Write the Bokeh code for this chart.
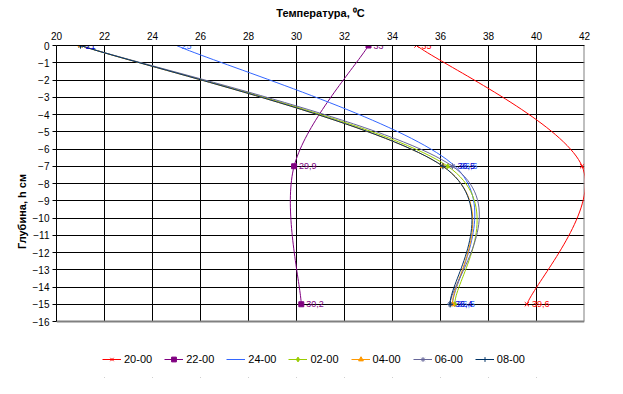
import numpy as np
from bokeh.plotting import figure
from bokeh.models import Range1d, FixedTicker, Legend, LegendItem, ColumnDataSource
from bokeh.embed import file_html
from bokeh.resources import INLINE
from bokeh.core.properties import value

# ---- data ----
depths = [0, -7, -15]
t_2000 = [35.0, 41.9, 39.6]
t_2200 = [33.0, 29.9, 30.2]
t_2400 = [25.0, 36.6, 36.5]
t_0200 = [21.0, 36.3, 36.6]
t_0400 = [21.0, 36.1, 36.5]
t_0600 = [21.0, 36.5, 36.4]
t_0800 = [21.0, 36.1, 36.4]

series_names = ["20-00", "22-00", "24-00", "02-00", "04-00", "06-00", "08-00"]
series_vals = [t_2000, t_2200, t_2400, t_0200, t_0400, t_0600, t_0800]
colors = ["#FF0000", "#800080", "#3366FF", "#99CC00", "#FF9900", "#666699", "#003366"]
markers = ["x", "square", None, "diamond", "triangle", "asterisk", "cross"]
labelled = {"20-00": "#FF0000", "22-00": "#800080", "24-00": "#3366FF", "06-00": "#0000CC"}

x_ticks = list(range(20, 43, 2))
y_ticks = list(range(-16, 1))

X0, X1 = 20, 42
Y0, Y1 = -16, 0
FONT = "Liberation Sans"

# layout (pixels)
W, H = 620, 391
BL, BR, BT, BB = 56, 36, 45, 14
FW = W - BL - BR                 # frame width
FH_PLOT = 276                    # height of the actual plot area (0 .. -16)
FH = H - BT - BB                 # frame height incl. room for the legend
Y_LOW = Y0 - (FH - FH_PLOT) * (Y1 - Y0) / FH_PLOT


def smooth(xs, ys, n=40):
    """Excel-style smoothed line (Bezier, tangents in screen space)."""
    sx = FW / (X1 - X0)
    sy = FH_PLOT / (Y1 - Y0)
    P = np.column_stack([np.asarray(xs, float) * sx, np.asarray(ys, float) * sy])
    m = len(P)
    out = [P[0]]
    t = np.linspace(0, 1, n)[1:, None]
    for i in range(m - 1):
        p0 = P[max(i - 1, 0)]
        p1 = P[i]
        p2 = P[i + 1]
        p3 = P[min(i + 2, m - 1)]
        c1 = p1 + (p2 - p0) / 6
        c2 = p2 - (p3 - p1) / 6
        seg = (1 - t) ** 3 * p1 + 3 * (1 - t) ** 2 * t * c1 + 3 * (1 - t) * t ** 2 * c2 + t ** 3 * p2
        out.extend(seg)
    out = np.array(out)
    return out[:, 0] / sx, out[:, 1] / sy


p = figure(width=W, height=H,
           x_range=Range1d(X0, X1), y_range=Range1d(Y_LOW, Y1),
           x_axis_location="above",
           output_backend="svg", toolbar_location=None,
           min_border_left=BL, min_border_right=BR,
           min_border_top=BT, min_border_bottom=BB)
p.background_fill_color = "white"
p.border_fill_color = "white"
p.outline_line_color = None

# axes
p.xaxis.ticker = FixedTicker(ticks=x_ticks)
p.yaxis.ticker = FixedTicker(ticks=y_ticks)
p.yaxis.bounds = (Y0, Y1)
p.xaxis.axis_label = "Температура, \u2070C"
p.yaxis.axis_label = "Глубина, h см"
for ax in (p.xaxis, p.yaxis):
    ax.axis_line_color = "black"
    ax.major_tick_line_color = "black"
    ax.minor_tick_line_color = None
    ax.major_tick_in = 0
    ax.major_label_text_font = FONT
    ax.major_label_text_font_size = "10px"
    ax.major_label_text_color = "black"
    ax.axis_label_text_font = FONT
    ax.axis_label_text_font_size = "11px"
    ax.axis_label_text_font_style = "bold"
    ax.axis_label_text_color = "black"
p.xaxis.major_tick_out = 0
p.xaxis.major_label_standoff = 6
p.xaxis.axis_label_standoff = 10
p.yaxis.major_tick_out = 4
p.yaxis.major_label_standoff = 3
p.yaxis.axis_label_standoff = 2

# grid
p.xgrid.ticker = FixedTicker(ticks=x_ticks[1:-1])
p.ygrid.ticker = FixedTicker(ticks=y_ticks[1:-1])
for g in (p.xgrid, p.ygrid):
    g.grid_line_color = "black"
    g.grid_line_alpha = 1.0
    g.grid_line_width = 1

# blank the area below the plot area (legend zone)
p.quad(left=[X0], right=[X1], bottom=[Y_LOW], top=[Y0],
       fill_color="white", line_color=None)
# gray plot-area border (right and bottom)
p.segment(x0=[X0, X1], y0=[Y0, Y0], x1=[X1, X1], y1=[Y0, Y1],
          line_color="#808080", line_width=2)

items = []
for name, vals, col, mk in zip(series_names, series_vals, colors, markers):
    sxv, syv = smooth(vals, depths)
    rl = p.line(sxv, syv, line_color=col, line_width=1)
    rends = [rl]
    if mk is not None:
        src = ColumnDataSource(dict(x=vals, y=depths))
        if mk in ("x", "cross", "asterisk"):
            rs = p.scatter("x", "y", source=src, marker=mk, size=6, line_color=col, line_width=1)
        else:
            rs = p.scatter("x", "y", source=src, marker=mk, size=5, line_color=col, fill_color=col)
        rends.append(rs)
    items.append(LegendItem(label=name, renderers=rends))

# data labels
for name, vals in zip(series_names, series_vals):
    if name in labelled:
        txt = [f"{v:g}".replace(".", ",") for v in vals]
        src = ColumnDataSource(dict(x=vals, y=depths, t=txt))
        p.text("x", "y", text="t", source=src, x_offset=5, text_baseline="middle",
               text_align="left", text_font=value(FONT), text_font_size="9px",
               text_color=labelled[name])

legend = Legend(items=items, orientation="horizontal", location=(46, 12))
legend.label_text_font = FONT
legend.label_text_font_size = "11px"
legend.label_text_color = "black"
legend.glyph_width = 19
legend.glyph_height = 12
legend.label_standoff = 3
legend.spacing = 12
legend.padding = 2
legend.margin = 0
legend.border_line_color = None
legend.background_fill_alpha = 0
p.add_layout(legend, "center")

open("out.html", "w").write(file_html(p, INLINE))
